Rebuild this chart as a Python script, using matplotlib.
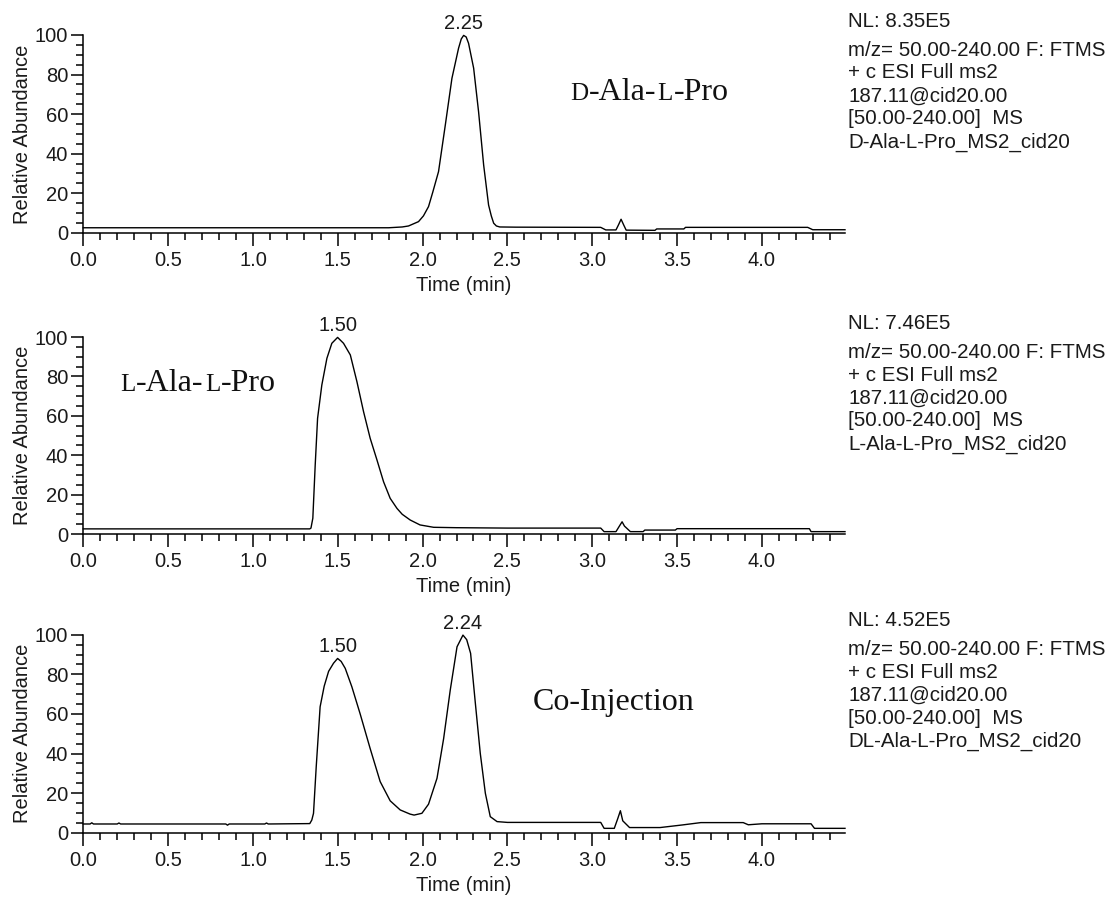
import numpy as np
import matplotlib.pyplot as plt
from matplotlib.ticker import MultipleLocator

plt.rcParams['font.family'] = ['Liberation Sans', 'DejaVu Sans']

# ---- data (time in min, relative abundance) ----
d_ala_time = [0.00, 1.80, 1.88, 1.917, 1.976, 2.005, 2.035, 2.06, 2.094, 2.134,
              2.173, 2.212, 2.228, 2.242, 2.257, 2.271, 2.301, 2.330, 2.360, 2.389,
              2.405, 2.419, 2.435, 2.455, 2.55, 3.05, 3.08, 3.14, 3.155, 3.17,
              3.185, 3.20, 3.37, 3.38, 3.54, 3.55, 4.27, 4.30, 4.49]
d_ala_abund = [2.5, 2.5, 2.9, 3.4, 5.6, 8.5, 13.2, 20.5, 30.9, 54.5,
               78.1, 93.3, 98.0, 99.8, 99.0, 95.8, 83.2, 61.2, 34.2, 14.0,
               8.5, 4.8, 3.4, 2.9, 2.8, 2.7, 1.4, 1.4, 4.0, 6.8,
               4.0, 1.3, 1.2, 1.9, 1.9, 2.7, 2.7, 1.5, 1.5]

l_ala_time = [0.00, 1.335, 1.342, 1.353, 1.367, 1.381, 1.406, 1.436, 1.465, 1.499,
              1.534, 1.574, 1.613, 1.652, 1.691, 1.731, 1.770, 1.809, 1.849, 1.880,
              1.927, 1.985, 2.065, 2.20, 2.5, 3.05, 3.07, 3.14, 3.16, 3.176,
              3.19, 3.225, 3.30, 3.31, 3.49, 3.50, 4.28, 4.29, 4.49]
l_ala_abund = [2.6, 2.6, 3.0, 8.0, 35.0, 58.7, 75.6, 89.2, 96.8, 99.8,
               96.8, 90.9, 77.3, 62.1, 48.6, 37.6, 26.5, 18.1, 13.0, 10.0,
               7.1, 4.6, 3.4, 3.2, 3.0, 3.0, 1.2, 1.2, 4.0, 6.2,
               4.0, 1.2, 1.2, 2.0, 2.0, 2.7, 2.7, 1.2, 1.2]

co_time = [0.00, 0.04, 0.05, 0.06, 0.20, 0.21, 0.22, 0.84, 0.85, 0.86,
           1.07, 1.08, 1.09, 1.335, 1.347, 1.357, 1.373, 1.396, 1.420, 1.446,
           1.475, 1.499, 1.520, 1.544, 1.583, 1.632, 1.691, 1.750, 1.809, 1.868,
           1.926, 1.950, 1.996, 2.035, 2.085, 2.124, 2.163, 2.203, 2.238, 2.260,
           2.283, 2.311, 2.340, 2.370, 2.399, 2.439, 2.50, 3.05, 3.07, 3.13,
           3.15, 3.166, 3.18, 3.22, 3.40, 3.53, 3.64, 3.89, 3.92, 4.00,
           4.17, 4.29, 4.31, 4.49]
co_abund = [4.4, 4.4, 5.0, 4.4, 4.4, 4.9, 4.4, 4.4, 3.8, 4.4,
            4.4, 4.9, 4.4, 4.6, 6.4, 9.8, 33.3, 63.6, 74.0, 81.5,
            85.6, 88.0, 86.5, 83.0, 73.7, 60.0, 42.5, 25.8, 16.1, 11.5,
            9.4, 8.9, 9.8, 14.4, 27.5, 47.5, 72.0, 93.9, 99.8, 97.5,
            90.6, 65.4, 40.1, 19.9, 8.1, 5.6, 5.2, 5.2, 2.2, 2.2,
            7.0, 11.1, 6.0, 2.6, 2.6, 3.9, 5.1, 5.1, 4.0, 4.5,
            4.5, 4.5, 2.2, 2.2]

peak_times = [[2.242], [1.499], [1.499, 2.238]]
peak_labels = [["2.25"], ["1.50"], ["1.50", "2.24"]]

nl_values = ["NL: 8.35E5", "NL: 7.46E5", "NL: 4.52E5"]
file_names = ["D-Ala-L-Pro_MS2_cid20", "L-Ala-L-Pro_MS2_cid20", "DL-Ala-L-Pro_MS2_cid20"]
scan_lines = ["m/z= 50.00-240.00 F: FTMS", "+ c ESI Full ms2",
              "187.11@cid20.00", "[50.00-240.00]  MS"]

# sample names, small caps letters are the smaller pieces
sample_names = [
    [("D", 18), ("-Ala-", 23), ("L", 18), ("-Pro", 23)],
    [("L", 18), ("-Ala-", 23), ("L", 18), ("-Pro", 23)],
    [("Co-Injection", 23)],
]

W, H = 1110, 897
fig = plt.figure(figsize=(W / 100, H / 100), dpi=100)
renderer = fig.canvas.get_renderer()

ax_left, ax_right = 83.3, 845.0
ax_tops = [35.0, 337.0, 634.7]
ax_bottoms = [232.7, 534.0, 832.7]
name_pos = [(570, 100), (120, 390.7), (533, 710)]

traces = [(d_ala_time, d_ala_abund), (l_ala_time, l_ala_abund), (co_time, co_abund)]

for i in range(3):
    top, bot = ax_tops[i], ax_bottoms[i]
    ax = fig.add_axes([ax_left / W, 1 - bot / H, (ax_right - ax_left) / W, (bot - top) / H])
    t, v = traces[i]
    ax.plot(t, v, color='black', linewidth=1.0, clip_on=False)
    ax.set_xlim(0, 4.49)
    ax.set_ylim(0, 100)

    ax.spines['top'].set_visible(False)
    ax.spines['right'].set_visible(False)
    for side in ['left', 'bottom']:
        ax.spines[side].set_linewidth(1.1)
        ax.spines[side].set_color('black')

    ax.xaxis.set_major_locator(MultipleLocator(0.5))
    ax.xaxis.set_minor_locator(MultipleLocator(0.1))
    ax.yaxis.set_major_locator(MultipleLocator(20))
    ax.yaxis.set_minor_locator(MultipleLocator(5))
    ax.set_xticks(np.arange(0, 4.01, 0.5))
    ax.set_xticklabels([f"{x:.1f}" for x in np.arange(0, 4.01, 0.5)])
    ax.tick_params(which='major', length=9, width=1.1, direction='out',
                   labelsize=14.5, labelcolor='#1a1a1a')
    ax.tick_params(which='minor', length=5.3, width=1.1, direction='out')
    ax.tick_params(axis='x', pad=4)
    ax.tick_params(axis='y', pad=2)

    ax.set_ylabel("Relative Abundance", fontsize=14.5, color='#1a1a1a', labelpad=1.7)
    ax.set_xlabel("Time (min)", fontsize=14.5, color='#1a1a1a', labelpad=4.5)

    for pt, lab in zip(peak_times[i], peak_labels[i]):
        pv = np.interp(pt, t, v)
        ax.annotate(lab, (pt, pv), xytext=(0, 4.5), textcoords='offset points',
                    ha='center', va='baseline', fontsize=14.5, color='#1a1a1a')

    # header text on the right
    x_txt = 848 / W
    fig.text(x_txt, 1 - (top - 8.3) / H, nl_values[i], fontsize=14.8,
             va='baseline', ha='left', color='#1a1a1a')
    lines = scan_lines + [file_names[i]]
    for k, s in enumerate(lines):
        fig.text(x_txt, 1 - (top + 20.5 + 23 * k) / H, s, fontsize=14.8,
                 va='baseline', ha='left', color='#1a1a1a')

    # sample name, drawn piece by piece for small caps
    x_px, base_px = name_pos[i]
    for s, size in sample_names[i]:
        txt = fig.text(x_px / W, 1 - base_px / H, s, fontsize=size,
                       family='Liberation Serif', va='baseline', ha='left', color='#111111')
        bb = txt.get_window_extent(renderer)
        x_px += bb.width + 1

fig.savefig("out.png", dpi=100)
